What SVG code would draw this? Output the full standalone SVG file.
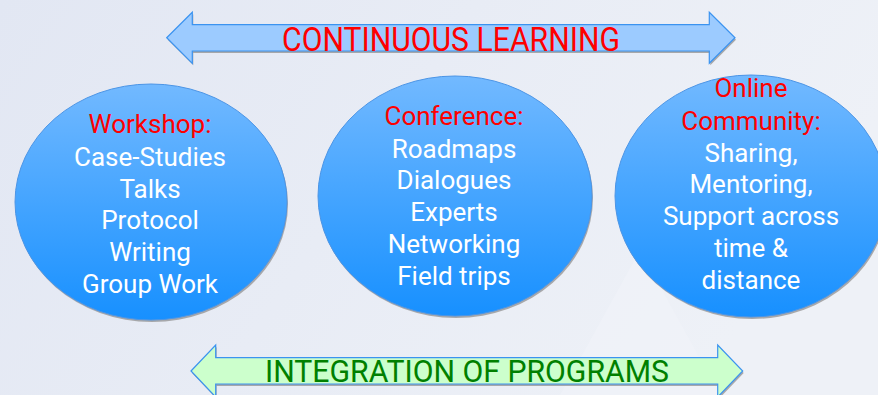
<svg xmlns="http://www.w3.org/2000/svg" width="878" height="395" viewBox="0 0 878 395">
<defs>
<linearGradient id="bg" x1="0" y1="0" x2="1" y2="0.3">
<stop offset="0" stop-color="#e2e7f3"/>
<stop offset="1" stop-color="#eef1f7"/>
</linearGradient>
<linearGradient id="ball" x1="0" y1="0" x2="0" y2="1">
<stop offset="0" stop-color="#72b9ff"/>
<stop offset="1" stop-color="#1790ff"/>
</linearGradient>
<style>
.ball{fill:url(#ball);stroke:#4c95e6;stroke-width:1}
.shadow{fill:#8a8a8a;opacity:0.7}
.t{font-family:Roboto,"Liberation Sans",sans-serif;font-size:26px;text-anchor:middle}
.w{fill:#ffffff}
.r{fill:#ff0000}
.arrowTop{fill:#9ccbff;stroke:#3b93f0;stroke-width:1.2}
.arrowBot{fill:#ccffcc;stroke:#3b93f0;stroke-width:1.2}
.big{font-family:Roboto,"Liberation Sans",sans-serif;text-anchor:middle}
</style>
</defs>
<rect width="878" height="395" fill="url(#bg)"/>
<polygon points="1150,0 1280,0 1000,395 880,395" fill="#f3f5fa" opacity="0.6"/>
<polygon points="560,395 640,250 720,395" fill="#f2f4f9" opacity="0.5"/>

<g id="continuous-learning">
<polygon class="shadow" transform="translate(1,2)" points="166.7,37.7 192.3,12.3 192.3,24.7 709.3,24.7 709.3,12.3 735,37.7 709.3,63.3 709.3,51 192.3,51 192.3,63.3"/>
<polygon class="arrowTop" points="166.7,37.7 192.3,12.3 192.3,24.7 709.3,24.7 709.3,12.3 735,37.7 709.3,63.3 709.3,51 192.3,51 192.3,63.3"/>
<text class="big" x="451" y="50.7" font-size="33.5" fill="#ff0000" textLength="338" lengthAdjust="spacingAndGlyphs">CONTINUOUS LEARNING</text>
</g>

<g id="workshop">
<ellipse class="shadow" cx="152" cy="204" rx="136" ry="118"/>
<ellipse class="ball" cx="151" cy="202" rx="136" ry="118"/>
<text class="t r" x="150" y="133">Workshop:</text>
<text class="t w" x="150" y="165.5">Case-Studies</text>
<text class="t w" x="150" y="197.5">Talks</text>
<text class="t w" x="150" y="229">Protocol</text>
<text class="t w" x="150" y="261">Writing</text>
<text class="t w" x="150" y="292.5">Group Work</text>
</g>

<g id="conference">
<ellipse class="shadow" cx="456" cy="198" rx="137" ry="120"/>
<ellipse class="ball" cx="455" cy="196" rx="137" ry="120"/>
<text class="t r" x="454" y="125">Conference:</text>
<text class="t w" x="454" y="157.5">Roadmaps</text>
<text class="t w" x="454" y="189.3">Dialogues</text>
<text class="t w" x="454" y="221.3">Experts</text>
<text class="t w" x="454" y="253.3">Networking</text>
<text class="t w" x="454" y="285">Field trips</text>
</g>

<g id="online-community">
<ellipse class="shadow" cx="752" cy="198" rx="136" ry="121"/>
<ellipse class="ball" cx="751" cy="196" rx="136" ry="121"/>
<text class="t r" x="751" y="97.3">Online</text>
<text class="t r" x="751" y="130">Community:</text>
<text class="t w" x="751" y="161.7">Sharing,</text>
<text class="t w" x="751" y="193.3">Mentoring,</text>
<text class="t w" x="751" y="225.3">Support across</text>
<text class="t w" x="751" y="257.3">time &amp;</text>
<text class="t w" x="751" y="289.3">distance</text>
</g>

<g id="integration-of-programs">
<polygon class="shadow" transform="translate(1,2)" points="191,371 215.7,345 215.7,357.7 717.7,357.7 717.7,345 742.7,371 717.7,397 717.7,384 215.7,384 215.7,397"/>
<polygon class="arrowBot" points="191,371 215.7,345 215.7,357.7 717.7,357.7 717.7,345 742.7,371 717.7,397 717.7,384 215.7,384 215.7,397"/>
<text class="big" x="467" y="381.7" font-size="30.5" fill="#008000" textLength="404" lengthAdjust="spacingAndGlyphs">INTEGRATION OF PROGRAMS</text>
</g>

<g id="connectors"/>
</svg>
